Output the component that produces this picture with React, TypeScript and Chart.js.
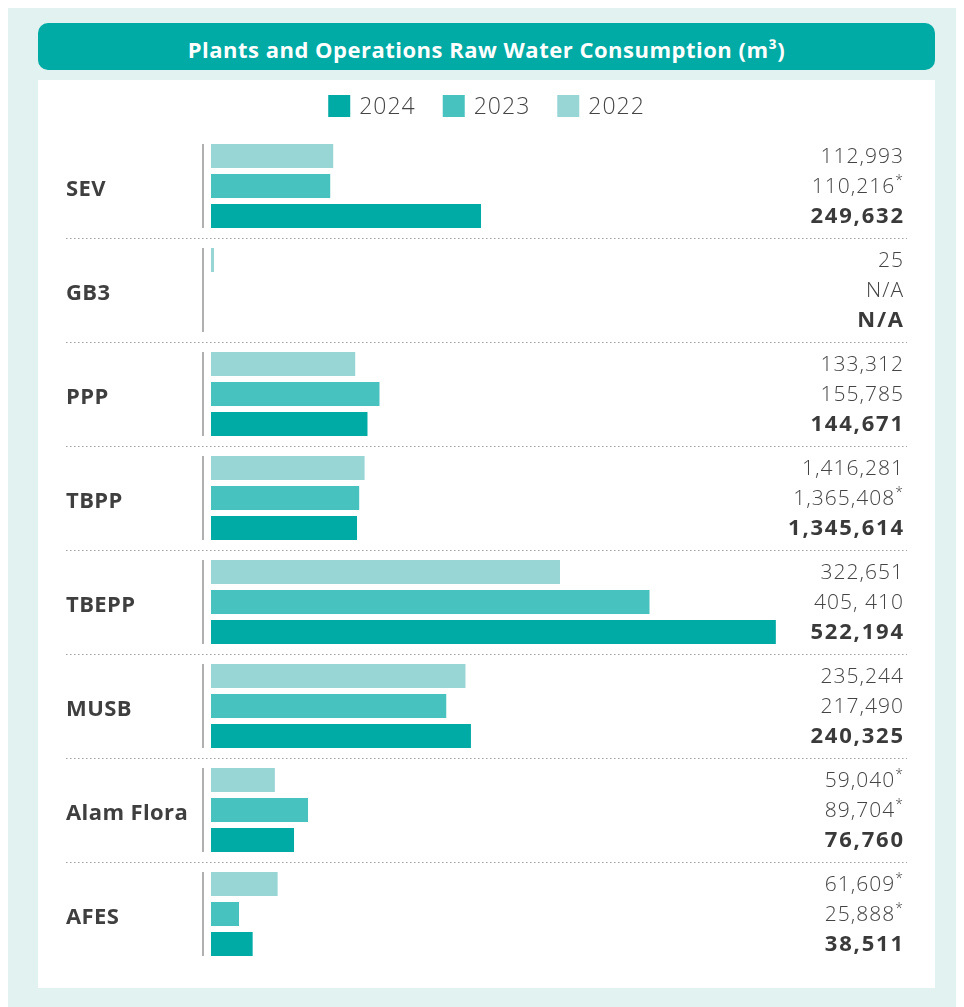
import React, { useEffect, useRef } from "react";
import { Chart, registerables } from "chart.js";

Chart.register(...registerables);

const categories = ["SEV", "GB3", "PPP", "TBPP", "TBEPP", "MUSB", "Alam Flora", "AFES"];
const years = ["2022", "2023", "2024"];

// bar lengths (TBPP bars are drawn much shorter than their labels)
const values2022 = [112993, 25, 133312, 142000, 322651, 235244, 59040, 61609];
const values2023 = [110216, null, 155785, 137000, 405410, 217490, 89704, 25888];
const values2024 = [249632, null, 144671, 135000, 522194, 240325, 76760, 38511];

const labels2022 = ["112,993", "25", "133,312", "1,416,281", "322,651", "235,244", "59,040*", "61,609*"];
const labels2023 = ["110,216*", "N/A", "155,785", "1,365,408*", "405, 410", "217,490", "89,704*", "25,888*"];
const labels2024 = ["249,632", "N/A", "144,671", "1,345,614", "522,194", "240,325", "76,760", "38,511"];

const colors = ["#98d6d6", "#48c2bf", "#00aaa5"];

const FONT = "'Open Sans', sans-serif";

const overlayPlugin = {
  id: "overlay",
  afterDraw(chart: any) {
    const ctx = chart.ctx;
    const yScale = chart.scales.y;
    const n = categories.length;
    const labelSets = [labels2022, labels2023, labels2024];
    ctx.save();

    // legend
    ctx.font = `300 23px ${FONT}`;
    ctx.letterSpacing = "1px";
    ctx.textBaseline = "middle";
    const order = [2, 1, 0];
    const box = 22, gapBox = 9, gapItem = 27;
    let total = 0;
    order.forEach((d, k) => {
      total += box + gapBox + ctx.measureText(years[d]).width + (k < order.length - 1 ? gapItem : 0);
    });
    let lx = chart.width / 2 - total / 2;
    const ly = 26;
    order.forEach((d) => {
      ctx.fillStyle = colors[d];
      ctx.fillRect(lx, ly - box / 2, box, box);
      ctx.fillStyle = "#444444";
      ctx.textAlign = "left";
      ctx.fillText(years[d], lx + box + gapBox, ly + 1);
      lx += box + gapBox + ctx.measureText(years[d]).width + gapItem;
    });

    const leftX = 28;
    const rightX = 865;
    const axisX = 165;

    for (let i = 0; i < n; i++) {
      const c = yScale.getPixelForValue(i);
      // category label
      ctx.font = `bold 22px ${FONT}`;
      ctx.letterSpacing = "0.4px";
      ctx.fillStyle = "#3f3f3f";
      ctx.textAlign = "left";
      ctx.textBaseline = "middle";
      ctx.fillText(categories[i], leftX, c + 4);

      // vertical axis line
      ctx.strokeStyle = "#b0b0b0";
      ctx.lineWidth = 2;
      ctx.beginPath();
      ctx.moveTo(axisX, c - 42);
      ctx.lineTo(axisX, c + 42);
      ctx.stroke();

      // separator
      if (i < n - 1) {
        const sy = Math.round((c + yScale.getPixelForValue(i + 1)) / 2) + 0.5;
        ctx.strokeStyle = "#a0a0a0";
        ctx.lineWidth = 1;
        ctx.setLineDash([1.5, 2.5]);
        ctx.beginPath();
        ctx.moveTo(leftX, sy);
        ctx.lineTo(rightX + 4, sy);
        ctx.stroke();
        ctx.setLineDash([]);
      }

      // value labels
      for (let d = 0; d < 3; d++) {
        const meta = chart.getDatasetMeta(d);
        const el = meta.data[i];
        const by = el && el.y != null && !isNaN(el.y) ? el.y : c + (d - 1) * 30;
        let txt = labelSets[d][i];
        const star = txt.endsWith("*");
        if (star) txt = txt.slice(0, -1);
        let rx = rightX;
        ctx.textBaseline = "middle";
        ctx.textAlign = "right";
        if (star) {
          ctx.font = `300 14px ${FONT}`;
          ctx.letterSpacing = "0px";
          ctx.fillStyle = "#444444";
          ctx.fillText("*", rx, by - 5);
          rx -= ctx.measureText("*").width + 1;
        }
        if (d === 2) {
          ctx.font = `bold 22px ${FONT}`;
          ctx.letterSpacing = "1.8px";
          ctx.fillStyle = "#3a3a3a";
          ctx.fillText(txt, rx + 1.8, by + 1);
        } else {
          ctx.font = `300 21px ${FONT}`;
          ctx.letterSpacing = "1px";
          ctx.fillStyle = "#444444";
          ctx.fillText(txt, rx + 1, by + 1);
        }
      }
    }
    ctx.restore();
  },
};

export default function App() {
  const canvasRef = useRef<HTMLCanvasElement | null>(null);

  useEffect(() => {
    if (!canvasRef.current) return;
    const chart = new Chart(canvasRef.current, {
      type: "bar",
      data: {
        labels: categories,
        datasets: [
          { label: years[0], data: values2022, backgroundColor: colors[0] },
          { label: years[1], data: values2023, backgroundColor: colors[1] },
          { label: years[2], data: values2024, backgroundColor: colors[2] },
        ] as any,
      },
      options: {
        indexAxis: "y",
        responsive: false,
        animation: false,
        maintainAspectRatio: false,
        datasets: {
          bar: {
            categoryPercentage: 90 / 104,
            barPercentage: 0.8,
            minBarLength: 3,
            borderWidth: 0,
          },
        },
        layout: { padding: { left: 173, right: 75, top: 54, bottom: 22 } },
        scales: {
          x: { display: false, min: 0, max: 600000 },
          y: { display: false },
        },
        plugins: { legend: { display: false }, tooltip: { enabled: false } },
      } as any,
      plugins: [overlayPlugin],
    });
    return () => chart.destroy();
  }, []);

  return (
    <div
      style={{
        background: "#e2f2f1",
        width: 948,
        boxSizing: "border-box",
        padding: "15px 21px 19px 30px",
      }}
    >
      <div
        style={{
          width: 897,
          height: 47,
          boxSizing: "border-box",
          paddingTop: 5,
          borderRadius: 10,
          background: "#00aaa5",
          color: "#ffffff",
          fontFamily: FONT,
          fontWeight: 700,
          fontSize: 22,
          letterSpacing: 0.5,
          display: "flex",
          alignItems: "center",
          justifyContent: "center",
        }}
      >
        Plants and Operations Raw Water Consumption (m³)
      </div>
      <div style={{ marginTop: 10, width: 897, height: 908, background: "#ffffff" }}>
        <canvas ref={canvasRef} width={897} height={908} style={{ display: "block", width: 897, height: 908 }} />
      </div>
    </div>
  );
}
